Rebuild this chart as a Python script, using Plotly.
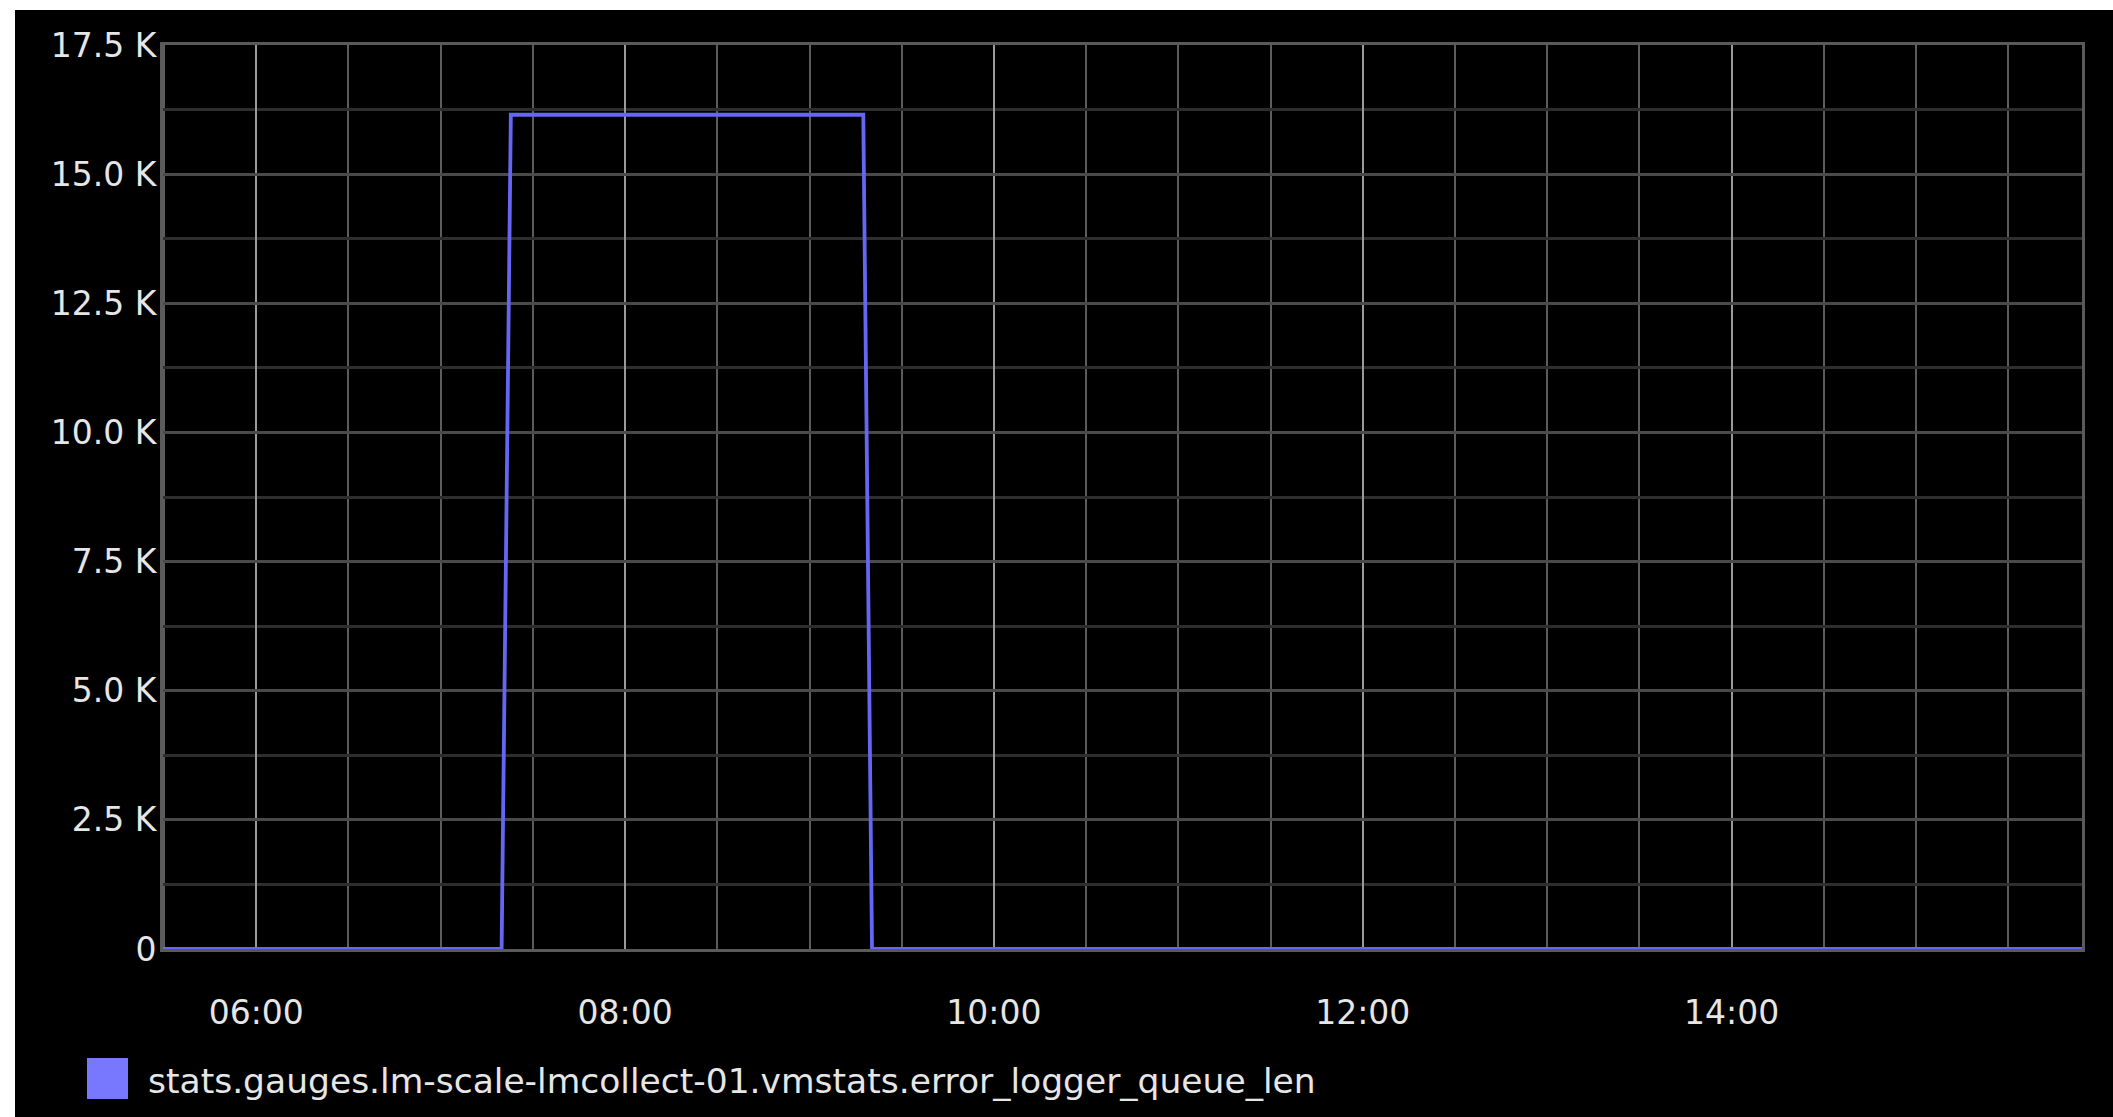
import plotly.graph_objects as go

# ---- data ----
times = [
    "2024-01-01 05:29:40",
    "2024-01-01 07:19:50",
    "2024-01-01 07:22:50",
    "2024-01-01 09:17:30",
    "2024-01-01 09:20:20",
    "2024-01-01 15:54:00",
]
values = [0, 0, 16150, 16150, 0, 0]
series_name = "stats.gauges.lm-scale-lmcollect-01.vmstats.error_logger_queue_len"
y_tickvals = [0, 2500, 5000, 7500, 10000, 12500, 15000, 17500]
y_ticktext = ["0", "2.5 K", "5.0 K", "7.5 K", "10.0 K", "12.5 K", "15.0 K", "17.5 K"]
x_range = ["2024-01-01 05:29:40", "2024-01-01 15:54:00"]

W, H = 2113, 1117
L, R, T, B = 163, 31, 45, 168
pw, ph = W - L - R, H - T - B

def px_x(p):
    return (p - L) / pw

def px_y(p):
    return (H - B - p) / ph

LINE = "#6666f4"
FONT = "DejaVu Sans"

fig = go.Figure()
fig.add_trace(go.Scatter(
    x=times, y=values, mode="lines",
    line=dict(color=LINE, width=3.8),
    name=series_name, showlegend=False,
))

# black canvas with white margin strip (top/left)
fig.add_shape(type="rect", xref="paper", yref="paper",
              x0=px_x(15), x1=px_x(W + 5), y0=px_y(H + 5), y1=px_y(10),
              fillcolor="black", line=dict(width=0), layer="below")

# legend swatch + text
fig.add_shape(type="rect", xref="paper", yref="paper",
              x0=px_x(87), x1=px_x(128), y0=px_y(1099), y1=px_y(1058),
              fillcolor="#7878ff", line=dict(width=0))
fig.add_annotation(xref="paper", yref="paper", x=px_x(146), y=px_y(1081),
                   text=series_name, showarrow=False, xanchor="left", yanchor="middle",
                   font=dict(family=FONT, size=34.5, color="#e6e6e6"))

fig.update_xaxes(
    type="date", range=x_range,
    tick0="2024-01-01 06:00", dtick=7200000, tickformat="%H:%M",
    showgrid=True, gridcolor="#9a9a9a", gridwidth=2,
    minor=dict(dtick=1800000, tick0="2024-01-01 06:00", showgrid=True,
               gridcolor="#5c5c5c", gridwidth=1.5),
    showline=True, linecolor="#5a5a5a", linewidth=3, mirror=True,
    ticks="", ticklabelstandoff=32,
    tickfont=dict(family=FONT, size=33, color="#e6e6e6"),
    zeroline=False,
)
fig.update_yaxes(
    range=[0, 17500], tickvals=y_tickvals, ticktext=y_ticktext,
    showgrid=True, gridcolor="#4a4a4a", gridwidth=3,
    minor=dict(dtick=1250, tick0=0, showgrid=True, gridcolor="#2e2e2e", gridwidth=2.5),
    showline=True, linecolor="#5a5a5a", linewidth=3, mirror=True,
    ticks="", ticklabelstandoff=-3,
    tickfont=dict(family=FONT, size=33, color="#e6e6e6"),
    zeroline=False,
)

fig.update_layout(
    width=W, height=H,
    margin=dict(l=L, r=R, t=T, b=B, pad=0),
    paper_bgcolor="white", plot_bgcolor="black",
    showlegend=False,
)

fig.write_html("out.html", config={"displayModeBar": False},
               post_script="document.body.style.margin='0';")
